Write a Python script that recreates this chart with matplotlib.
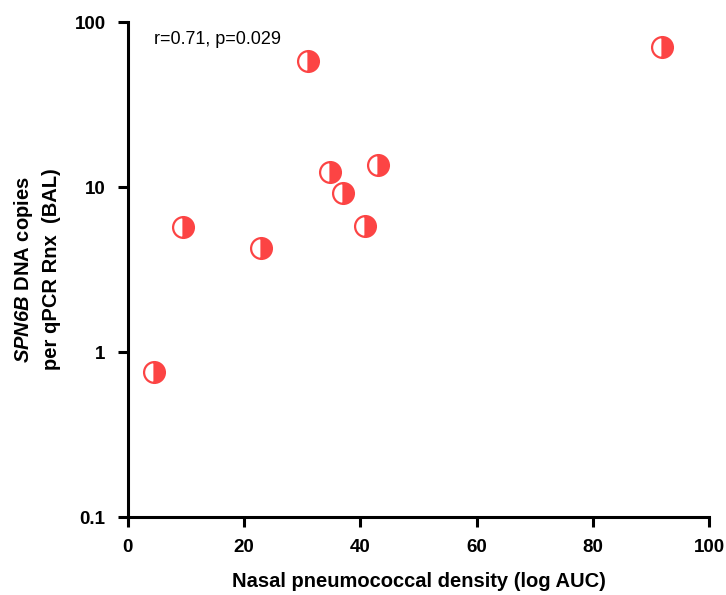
import numpy as np
import matplotlib
matplotlib.use("Agg")
import matplotlib.pyplot as plt
from matplotlib.ticker import FixedLocator, NullLocator, FixedFormatter

plt.rcParams['font.family'] = ['Liberation Sans', 'DejaVu Sans']
plt.rcParams['mathtext.fontset'] = 'custom'
plt.rcParams['mathtext.bfit'] = 'Liberation Sans:italic:bold'
plt.rcParams['mathtext.bf'] = 'Liberation Sans:bold'

# nasal density (log AUC) vs SPN6B copies in BAL
density = [4.5, 9.5, 22.9, 31.0, 34.8, 37.0, 40.8, 43.0, 91.9]
copies = [0.76, 5.7, 4.3, 58.0, 12.3, 9.2, 5.8, 13.6, 70.5]

xticks = [0, 20, 40, 60, 80, 100]
yticks = [0.1, 1, 10, 100]
ylabels = ['0.1', '1', '10', '100']

red = '#fc4444'

fig = plt.figure(figsize=(7.26, 5.95), dpi=100)
ax = fig.add_axes([0.176, 0.131, 0.801, 0.832])

ax.plot(density, copies, linestyle='none', marker='o', markersize=15,
        fillstyle='right', markerfacecolor=red, markerfacecoloralt='white',
        markeredgecolor=red, markeredgewidth=1.6, clip_on=False)

ax.set_yscale('log')
ax.set_xlim(0, 100)
ax.set_ylim(0.1, 100)
ax.xaxis.set_major_locator(FixedLocator(xticks))
ax.yaxis.set_major_locator(FixedLocator(yticks))
ax.yaxis.set_major_formatter(FixedFormatter(ylabels))
ax.yaxis.set_minor_locator(NullLocator())

for s in ['top', 'right']:
    ax.spines[s].set_visible(False)
for s in ['left', 'bottom']:
    ax.spines[s].set_linewidth(2.2)

ax.tick_params(axis='both', which='major', direction='out', length=7, width=2.2,
               labelsize=13.5, pad=9)
for lab in ax.get_xticklabels() + ax.get_yticklabels():
    lab.set_fontweight('bold')

ax.set_xlabel('Nasal pneumococcal density (log AUC)', fontsize=14.5, fontweight='bold', labelpad=11)
ax.set_ylabel('$\\mathbfit{SPN6B}$ DNA copies\nper qPCR Rnx  (BAL)', fontsize=14.5,
              fontweight='bold', labelpad=10, linespacing=1.45)

ax.text(4.5, 78, 'r=0.71, p=0.029', fontsize=13, va='center')

fig.savefig('out.png', dpi=100)
